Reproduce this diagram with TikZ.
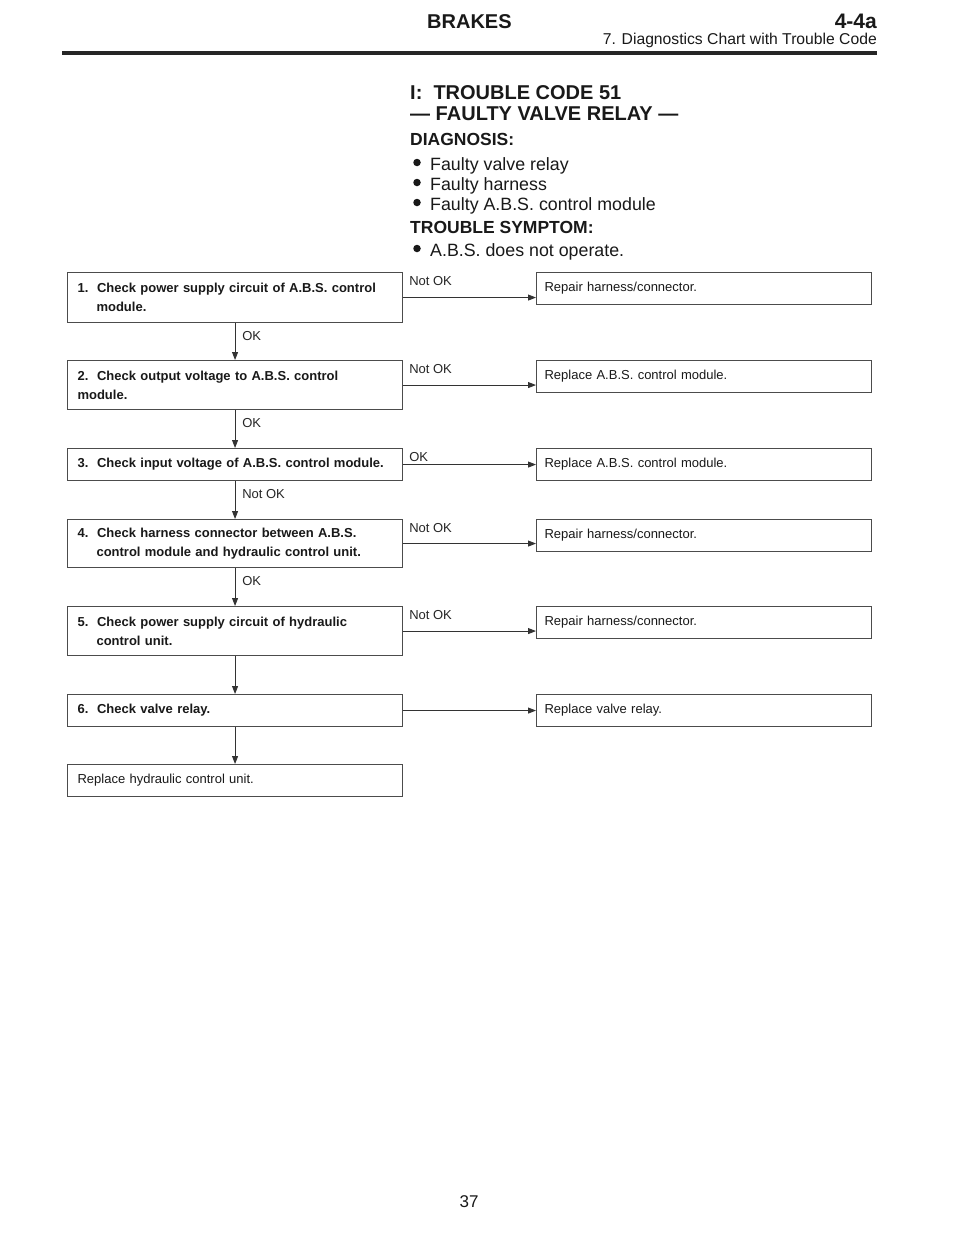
\documentclass[tikz,border=0pt]{standalone}
\usepackage{fontspec}
\setmainfont{Liberation Sans}
\usetikzlibrary{arrows.meta, calc, positioning}

\newcommand{\hang}{\hspace*{19pt}}

\begin{document}
\begin{tikzpicture}[x=1pt, y=-1pt,
  box/.style={draw=black!70, line width=1.1pt, anchor=north west, minimum width=335pt,
    text width=315pt, inner xsep=10pt, inner ysep=0pt, align=left,
    font=\fontsize{13}{19}\selectfont\bfseries, text=black!90},
  rbox/.style={draw=black!70, line width=1.1pt, anchor=north west, minimum width=335pt,
    minimum height=32pt, text width=319pt, inner xsep=8pt, inner ysep=0pt, align=left,
    font=\fontsize{13}{19}\selectfont, text=black!90},
  arr/.style={draw=black!80, line width=0.9pt, -{Triangle[length=8pt,width=6pt]}},
  lbl/.style={inner sep=0pt, font=\fontsize{13}{13}\selectfont, text=black!85},
  head/.style={inner sep=0pt, text=black!90},
  dot/.style={circle, fill=black!90, inner sep=0pt, minimum size=7.5pt}]
\useasboundingbox (0,0) rectangle (960,1242);
\fill[white] (0,0) rectangle (960,1242);

% page header
\node[head, anchor=base west, font=\fontsize{20}{20}\selectfont\bfseries] (brakes) at (427,28) {BRAKES};
\node[head, anchor=base east, font=\fontsize{21}{21}\selectfont\bfseries] (sect) at (877,28) {4-4a};
\node[head, anchor=base east, font=\fontsize{15.7}{16}\selectfont] (chap) at (877,44) {7. Diagnostics Chart with Trouble Code};
\draw[line width=4pt, black!85] (62,53)--(877,53);

% title and symptoms
\node[head, anchor=base west, font=\fontsize{20}{20}\selectfont\bfseries] (t1) at (410,99) {I:\ \ TROUBLE CODE 51};
\node[head, anchor=base west, font=\fontsize{20}{20}\selectfont\bfseries] (t2) at (410,120) {— FAULTY VALVE RELAY —};
\node[head, anchor=base west, font=\fontsize{17.5}{18}\selectfont\bfseries] (diag) at (410,145) {DIAGNOSIS:};
\foreach \y/\t [count=\k] in {170/Faulty valve relay, 190/Faulty harness, 210/Faulty A.B.S. control module}{
  \node[dot] (db\k) at (417,\y-7.5) {};
  \node[head, anchor=base west, font=\fontsize{17.8}{18}\selectfont] (d\k) at (430,\y) {\t};
}
\node[head, anchor=base west, font=\fontsize{17.5}{18}\selectfont\bfseries] (symp) at (410,233) {TROUBLE SYMPTOM:};
\node[dot] (sb1) at (417,248.5) {};
\node[head, anchor=base west, font=\fontsize{17.8}{18}\selectfont] (s1) at (430,256) {A.B.S. does not operate.};

% check steps
\node[box, minimum height=50pt] (b1) at (67,272) {1.\ \ Check power supply circuit of A.B.S. control\\\hang module.};
\node[box, minimum height=49pt] (b2) at (67,360) {2.\ \ Check output voltage to A.B.S. control\\module.};
\node[box, minimum height=32pt] (b3) at (67,448) {3.\ \ Check input voltage of A.B.S. control module.};
\node[box, minimum height=48pt] (b4) at (67,519) {4.\ \ Check harness connector between A.B.S.\\\hang control module and hydraulic control unit.};
\node[box, minimum height=49pt] (b5) at (67,606) {5.\ \ Check power supply circuit of hydraulic\\\hang control unit.};
\node[box, minimum height=32pt] (b6) at (67,694) {6.\ \ Check valve relay.};
\node[box, minimum height=32pt, font=\fontsize{13}{19}\selectfont] (b7) at (67,764) {Replace hydraulic control unit.};

% repairs
\node[rbox] (r1) at (536,272) {Repair harness/connector.};
\node[rbox] (r2) at (536,360) {Replace A.B.S. control module.};
\node[rbox] (r3) at (536,448) {Replace A.B.S. control module.};
\node[rbox] (r4) at (536,519) {Repair harness/connector.};
\node[rbox] (r5) at (536,606) {Repair harness/connector.};
\node[rbox] (r6) at (536,694) {Replace valve relay.};

\foreach \a/\b in {b1/b2, b2/b3, b3/b4, b4/b5, b5/b6, b6/b7} \draw[arr] (\a.south) -- (\b.north);
\foreach \i in {1,...,6} \draw[arr] (b\i.east) -- (b\i.east -| r\i.west);

\foreach \i/\t in {1/Not OK, 2/Not OK, 3/OK, 4/Not OK, 5/Not OK}
  \node[lbl, below right=4pt and 6pt of b\i.north east] (h\i) {\t};
\foreach \i/\t in {1/OK, 2/OK, 3/Not OK, 4/OK}
  \node[lbl, below right=8pt and 7pt of b\i.south] (v\i) {\t};

% page number
\node[head, anchor=base, font=\fontsize{17}{17}\selectfont] (page) at (469,1207) {37};
\end{tikzpicture}
\end{document}
